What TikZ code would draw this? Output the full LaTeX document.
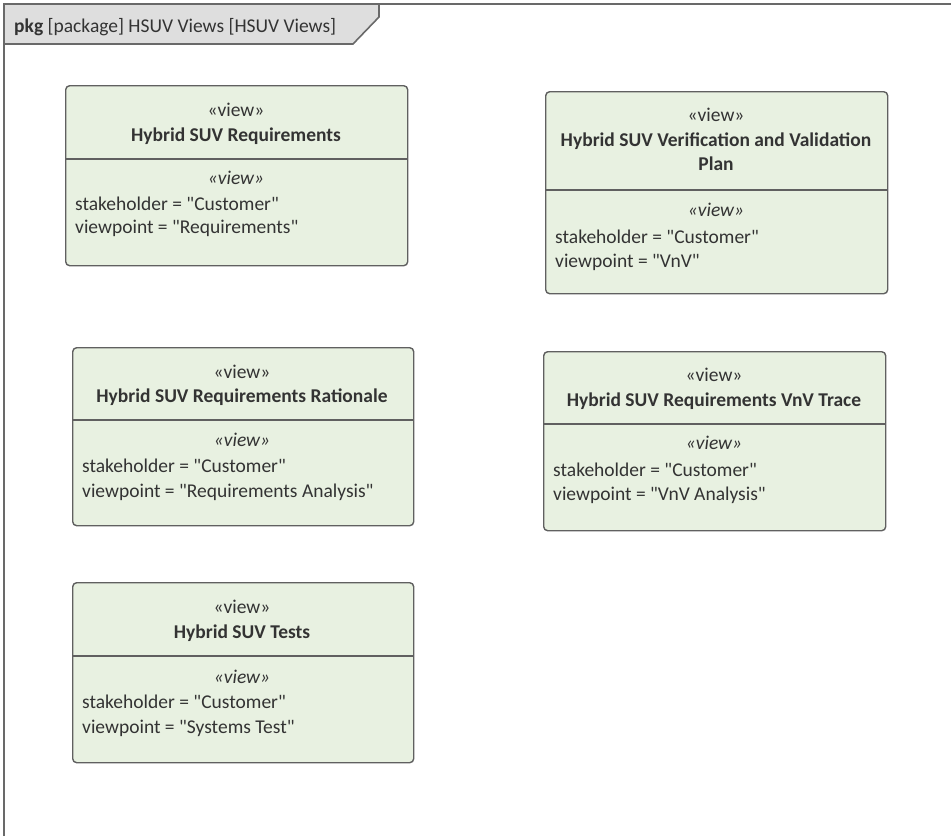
\documentclass[tikz,border=0pt]{standalone}
\usepackage{fontspec}
\setmainfont{Carlito}[Ligatures=TeXOff]
\definecolor{boxfill}{RGB}{232,241,225}
\definecolor{boxline}{RGB}{96,96,96}
\definecolor{txt}{RGB}{51,51,51}
\definecolor{tabfill}{RGB}{222,222,222}
\definecolor{frameline}{RGB}{105,105,105}
\tikzset{
  viewbox/.style={draw=boxline, fill=boxfill, line width=1.4pt, rounded corners=4pt, rectangle, inner sep=0pt, anchor=north west},
  divider/.style={draw=boxline, line width=1.4pt},
  ster/.style={font=\fontsize{19.5}{23}\selectfont, text=txt, anchor=mid, inner sep=0pt, yshift=-4.5pt},
  ttl/.style={font=\fontsize{19.5}{23}\selectfont\bfseries, text=txt, anchor=mid, inner sep=0pt, yshift=-4.5pt},
  ister/.style={font=\fontsize{19.5}{23}\selectfont\itshape, text=txt, anchor=mid, inner sep=0pt, yshift=-4.5pt},
  attr/.style={font=\fontsize{19.5}{23}\selectfont, text=txt, anchor=mid west, inner sep=0pt, yshift=-4.5pt},
}
\begin{document}
\begin{tikzpicture}[x=1pt,y=-1pt]
\useasboundingbox (0,0) rectangle (951,836);
% package frame
\draw[frameline, line width=2.2pt] (4,836) -- (4,4) -- (951,4);
\filldraw[fill=tabfill, draw=frameline, line width=1.6pt] (4,4) -- (379,4) -- (379,17) -- (353,44) -- (4,44) -- cycle;
\node[anchor=mid west, inner sep=0pt, text=txt, font=\fontsize{19.5}{23}\selectfont, yshift=-4pt] (hdr) at (14,26) {\textbf{pkg} [package] HSUV Views [HSUV Views]};

% box 1
\node[viewbox, minimum width=342pt, minimum height=180pt] (b1) at (65,85) {};
\draw[divider] ([yshift=-74pt]b1.north west) -- ([yshift=-74pt]b1.north east);
\node[ster] (b1a) at (236,110) {«view»};
\node[ttl] (b1b) at (236,135) {Hybrid SUV Requirements};
\node[ister] (b1c) at (236,178) {«view»};
\node[attr] (b1d) at (75,204) {stakeholder = "Customer"};
\node[attr] (b1e) at (75,227) {viewpoint = "Requirements"};

% box 2
\node[viewbox, minimum width=342pt, minimum height=202pt] (b2) at (545,91) {};
\draw[divider] ([yshift=-99pt]b2.north west) -- ([yshift=-99pt]b2.north east);
\node[ster] (b2a) at (716,115) {«view»};
\node[ttl] (b2b) at (716,140) {Hybrid SUV Verification and Validation};
\node[ttl] (b2c) at (716,164) {Plan};
\node[ister] (b2d) at (716,210) {«view»};
\node[attr] (b2e) at (555,237) {stakeholder = "Customer"};
\node[attr] (b2f) at (555,261) {viewpoint = "VnV"};

% box 3
\node[viewbox, minimum width=341pt, minimum height=178pt] (b3) at (72,347) {};
\draw[divider] ([yshift=-73pt]b3.north west) -- ([yshift=-73pt]b3.north east);
\node[ster] (b3a) at (242,372) {«view»};
\node[ttl] (b3b) at (242,396) {Hybrid SUV Requirements Rationale};
\node[ister] (b3c) at (242,440) {«view»};
\node[attr] (b3d) at (82,466) {stakeholder = "Customer"};
\node[attr] (b3e) at (82,491) {viewpoint = "Requirements Analysis"};

% box 4
\node[viewbox, minimum width=342pt, minimum height=179pt] (b4) at (543,351) {};
\draw[divider] ([yshift=-73pt]b4.north west) -- ([yshift=-73pt]b4.north east);
\node[ster] (b4a) at (714,375) {«view»};
\node[ttl] (b4b) at (714,400) {Hybrid SUV Requirements VnV Trace};
\node[ister] (b4c) at (714,443) {«view»};
\node[attr] (b4d) at (553,470) {stakeholder = "Customer"};
\node[attr] (b4e) at (553,494) {viewpoint = "VnV Analysis"};

% box 5
\node[viewbox, minimum width=341pt, minimum height=180pt] (b5) at (72,582) {};
\draw[divider] ([yshift=-74pt]b5.north west) -- ([yshift=-74pt]b5.north east);
\node[ster] (b5a) at (242,607) {«view»};
\node[ttl] (b5b) at (242,632) {Hybrid SUV Tests};
\node[ister] (b5c) at (242,677) {«view»};
\node[attr] (b5d) at (82,702) {stakeholder = "Customer"};
\node[attr] (b5e) at (82,727) {viewpoint = "Systems Test"};
\end{tikzpicture}
\end{document}
